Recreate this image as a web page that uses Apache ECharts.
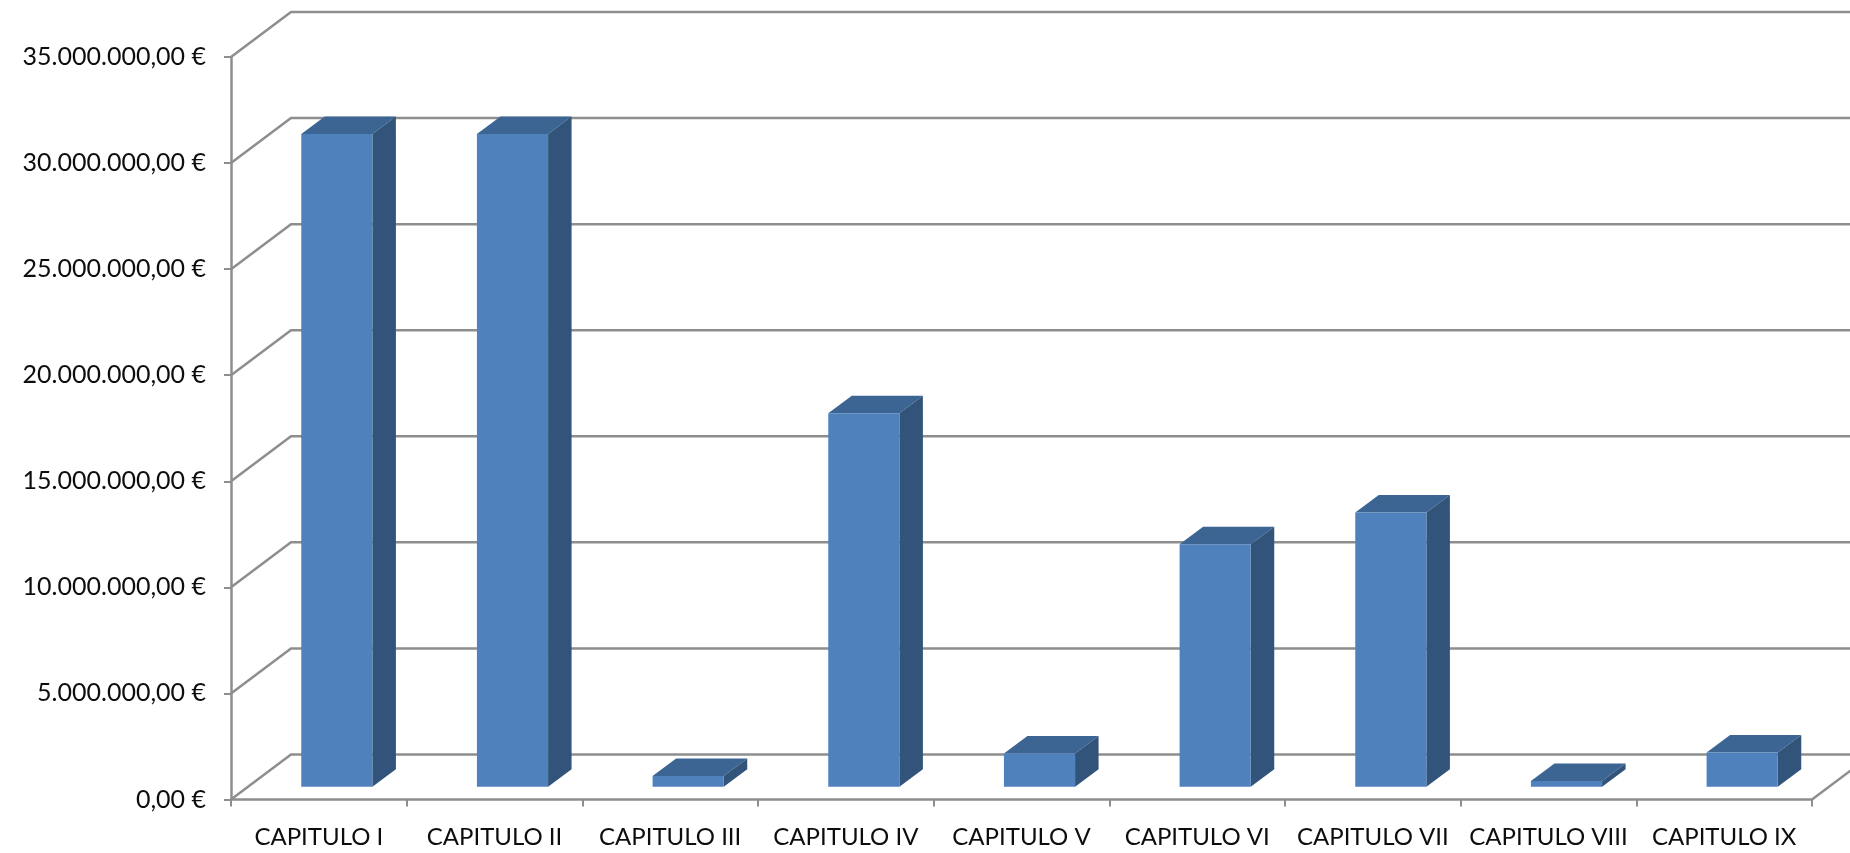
<!DOCTYPE html>
<html>
<head>
<meta charset="utf-8">
<style>html,body{margin:0;padding:0;background:#fff}#chart{width:1850px;height:853px}</style>
<script src="https://cdn.jsdelivr.net/npm/echarts@6/dist/echarts.min.js"></script>
</head>
<body>
<div id="chart"></div>
<script>
const categories = ['CAPITULO I','CAPITULO II','CAPITULO III','CAPITULO IV','CAPITULO V','CAPITULO VI','CAPITULO VII','CAPITULO VIII','CAPITULO IX'];
const values = [30770000,30770000,510000,17600000,1570000,11430000,12930000,270000,1610000];
const tickValues = [0,5000000,10000000,15000000,20000000,25000000,30000000,35000000];
const tickLabels = ['0,00 €','5.000.000,00 €','10.000.000,00 €','15.000.000,00 €','20.000.000,00 €','25.000.000,00 €','30.000.000,00 €','35.000.000,00 €'];

const GRID = '#8e8e8e', FRONT = '#4f81bd', TOP = '#3d6594', SIDE = '#32547a', TEXT = '#0d0d0d';
const FONT = 'Lato';
const WALL_DX = 60, WALL_DY = -45;
const BAR_SHIFT_X = 18, BAR_SHIFT_Y = -12.8, BAR_DX = 23.5, BAR_DY = -17.5, BAR_RATIO = 0.405;

function renderWall(params, api) {
  const v = api.value(0);
  const p = api.coord([0, v]);
  const band = api.size([1, 0])[0];
  const x0 = p[0] - band / 2;
  const end = x0 + band * categories.length + WALL_DX;
  const children = [{
    type: 'polyline',
    shape: { points: [[x0, p[1]], [x0 + WALL_DX, p[1] + WALL_DY], [end + 200, p[1] + WALL_DY]] },
    style: { stroke: GRID, lineWidth: 2.5, fill: 'none' }
  }];
  if (v === 0) {
    children.push({
      type: 'line',
      shape: { x1: end - WALL_DX, y1: p[1], x2: end, y2: p[1] + WALL_DY },
      style: { stroke: GRID, lineWidth: 2.5 }
    });
  }
  return { type: 'group', children };
}

function renderBar(params, api) {
  const i = api.value(0);
  const base = api.coord([i, 0]);
  const top = api.coord([i, api.value(1)]);
  const w = api.size([1, 0])[0] * BAR_RATIO;
  const l = base[0] + BAR_SHIFT_X - w / 2, r = l + w;
  const yb = base[1] + BAR_SHIFT_Y, yt = top[1] + BAR_SHIFT_Y;
  return {
    type: 'group',
    children: [
      { type: 'polygon', shape: { points: [[l, yt], [r, yt], [r + BAR_DX, yt + BAR_DY], [l + BAR_DX, yt + BAR_DY]] }, style: { fill: TOP } },
      { type: 'polygon', shape: { points: [[r, yt], [r + BAR_DX, yt + BAR_DY], [r + BAR_DX, yb + BAR_DY], [r, yb]] }, style: { fill: SIDE } },
      { type: 'rect', shape: { x: l, y: yt, width: w, height: yb - yt }, style: { fill: FRONT } }
    ]
  };
}

const chart = echarts.init(document.getElementById('chart'), null, { renderer: 'canvas' });
chart.setOption({
  animation: false,
  backgroundColor: '#ffffff',
  grid: { left: 231, right: 38, top: 57, bottom: 53.5 },
  xAxis: {
    type: 'category',
    data: categories,
    axisLine: { lineStyle: { color: GRID, width: 2.5 } },
    axisTick: { show: true, length: 7, lineStyle: { color: GRID, width: 2 } },
    axisLabel: { color: TEXT, fontFamily: FONT, fontSize: 24, margin: 26, interval: 0 }
  },
  yAxis: {
    type: 'value',
    min: 0,
    max: 35000000,
    interval: 5000000,
    axisLine: { show: true, lineStyle: { color: GRID, width: 2.5 } },
    axisTick: { show: true, length: 7, lineStyle: { color: GRID, width: 2 } },
    splitLine: { show: false },
    axisLabel: {
      color: TEXT, fontFamily: FONT, fontSize: 25, margin: 25,
      padding: [5, 0, 0, 0],
      formatter: function (v) { return tickLabels[tickValues.indexOf(v)]; }
    }
  },
  series: [
    { type: 'custom', name: 'walls', z: 1, silent: true, renderItem: renderWall, data: tickValues.map(function (v) { return [v]; }), encode: { y: 0 } },
    { type: 'custom', name: 'Importe', z: 3, renderItem: renderBar, data: values.map(function (v, i) { return [i, v]; }), encode: { x: 0, y: 1 } }
  ]
});
</script>
</body>
</html>
